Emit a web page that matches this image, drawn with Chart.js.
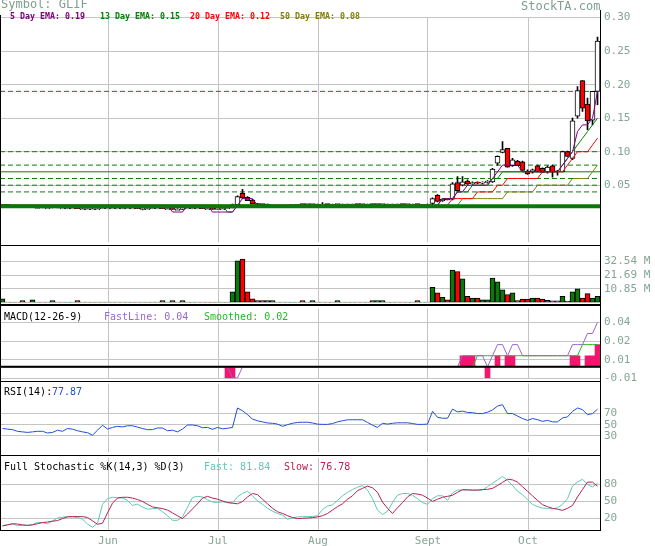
<!DOCTYPE html>
<html>
<head>
<meta charset="utf-8">
<script src="https://cdn.jsdelivr.net/npm/chart.js@4.4.0/dist/chart.umd.min.js"></script>
<style>
  body { margin: 0; background: #fff; }
  #wrap { position: relative; width: 655px; height: 546px; overflow: hidden; font-family: "DejaVu Sans Mono", monospace; }
  canvas { position: absolute; left: 0; }
  .ln { position: absolute; background: #000; pointer-events: none; }
  .txt { position: absolute; white-space: pre; line-height: 1; }
</style>
</head>
<body>
<div id="wrap">
  <canvas id="priceChart"></canvas>
  <canvas id="volumeChart"></canvas>
  <canvas id="macdChart"></canvas>
  <canvas id="rsiChart"></canvas>
  <canvas id="stochChart"></canvas>
</div>
<script>
// trading days shown, one candle per day
const days = 120;
const monthTicks = [21.6, 43.6, 63.6, 85.6, 105.6];
const monthLabels = ["Jun", "Jul", "Aug", "Sept", "Oct"];

// [open, high, low, close]
const ohlc = [
  [0.019,0.021,0.019,0.021],[0.021,0.021,0.019,0.020],[0.018,0.019,0.017,0.018],[0.018,0.018,0.017,0.017],[0.017,0.018,0.017,0.018],
  [0.018,0.018,0.017,0.017],[0.017,0.018,0.017,0.018],[0.017,0.017,0.016,0.017],[0.017,0.017,0.016,0.016],[0.016,0.017,0.016,0.016],
  [0.016,0.017,0.016,0.017],[0.017,0.017,0.016,0.016],[0.016,0.016,0.016,0.016],[0.016,0.016,0.015,0.016],[0.016,0.016,0.016,0.016],
  [0.016,0.016,0.015,0.015],[0.015,0.016,0.015,0.015],[0.015,0.015,0.015,0.015],[0.015,0.016,0.015,0.015],[0.015,0.015,0.015,0.015],
  [0.015,0.016,0.015,0.016],[0.016,0.016,0.016,0.016],[0.016,0.017,0.016,0.016],[0.016,0.016,0.016,0.016],[0.016,0.016,0.015,0.016],
  [0.016,0.016,0.016,0.016],[0.016,0.016,0.016,0.016],[0.016,0.016,0.015,0.015],[0.014,0.015,0.013,0.015],[0.015,0.015,0.015,0.015],
  [0.015,0.016,0.015,0.016],[0.016,0.016,0.016,0.016],[0.016,0.016,0.015,0.015],[0.015,0.015,0.015,0.015],[0.015,0.015,0.014,0.014],
  [0.014,0.015,0.014,0.014],[0.014,0.016,0.014,0.016],[0.016,0.016,0.016,0.016],[0.016,0.016,0.015,0.016],[0.016,0.016,0.016,0.016],
  [0.016,0.016,0.015,0.015],[0.015,0.015,0.015,0.015],[0.015,0.015,0.014,0.014],[0.014,0.015,0.014,0.015],[0.015,0.015,0.015,0.015],
  [0.015,0.016,0.015,0.016],[0.016,0.022,0.016,0.021],[0.021,0.034,0.020,0.033],[0.038,0.044,0.030,0.031],[0.032,0.033,0.027,0.027],
  [0.028,0.029,0.022,0.022],[0.022,0.023,0.021,0.021],[0.022,0.022,0.021,0.021],[0.022,0.022,0.019,0.019],[0.019,0.020,0.019,0.020],
  [0.020,0.020,0.019,0.020],[0.019,0.020,0.019,0.019],[0.019,0.020,0.019,0.020],[0.020,0.021,0.020,0.021],[0.021,0.021,0.021,0.021],
  [0.022,0.022,0.021,0.021],[0.021,0.022,0.021,0.022],[0.021,0.022,0.021,0.022],[0.022,0.022,0.021,0.022],[0.022,0.024,0.021,0.022],
  [0.022,0.022,0.021,0.021],[0.021,0.022,0.021,0.021],[0.021,0.022,0.021,0.022],[0.022,0.022,0.022,0.022],[0.022,0.022,0.021,0.022],
  [0.022,0.022,0.022,0.022],[0.022,0.022,0.021,0.021],[0.021,0.022,0.021,0.022],[0.022,0.022,0.022,0.022],[0.022,0.022,0.021,0.021],
  [0.022,0.022,0.021,0.021],[0.021,0.022,0.021,0.022],[0.022,0.022,0.022,0.022],[0.022,0.022,0.021,0.022],[0.022,0.022,0.022,0.022],
  [0.022,0.022,0.021,0.021],[0.021,0.022,0.021,0.022],[0.022,0.022,0.022,0.022],[0.022,0.022,0.021,0.021],[0.021,0.021,0.020,0.021],
  [0.021,0.022,0.020,0.021],[0.023,0.031,0.021,0.030],[0.035,0.036,0.025,0.026],[0.027,0.030,0.026,0.029],[0.029,0.029,0.028,0.028],
  [0.029,0.054,0.028,0.052],[0.054,0.063,0.041,0.042],[0.050,0.063,0.049,0.055],[0.056,0.058,0.051,0.052],[0.052,0.055,0.051,0.054],
  [0.054,0.055,0.052,0.053],[0.053,0.055,0.052,0.054],[0.054,0.057,0.053,0.056],[0.055,0.075,0.054,0.074],[0.083,0.094,0.080,0.093],
  [0.099,0.115,0.098,0.103],[0.105,0.105,0.077,0.077],[0.079,0.090,0.078,0.088],[0.086,0.087,0.079,0.079],[0.085,0.086,0.072,0.072],
  [0.071,0.073,0.066,0.067],[0.070,0.074,0.068,0.073],[0.079,0.080,0.070,0.070],[0.075,0.076,0.069,0.069],[0.070,0.079,0.068,0.077],
  [0.079,0.080,0.062,0.070],[0.071,0.072,0.065,0.070],[0.070,0.101,0.070,0.100],[0.100,0.101,0.093,0.093],[0.090,0.150,0.088,0.146],
  [0.153,0.197,0.150,0.191],[0.206,0.206,0.160,0.165],[0.171,0.180,0.133,0.146],[0.147,0.190,0.140,0.190],[0.190,0.271,0.170,0.265]
];

// volume, millions
const volume = [
  2.9,0.2,0.2,0.2,1.5,0.2,2.0,0.2,0.2,0.2,
  1.5,0.2,0.2,0.2,0.2,1.5,0.2,0.2,0.2,0.2,
  0.2,0.2,0.2,0.2,0.2,0.2,0.2,0.2,0.2,0.2,
  0.2,0.2,1.5,0.2,1.5,0.2,1.5,0.2,0.2,0.2,
  0.2,0.2,0.2,0.2,0.2,0.2,8.5,33.0,34.5,8.5,
  2.9,1.5,1.5,1.5,1.5,0.2,0.2,0.2,0.2,0.2,
  1.5,0.2,1.5,0.2,0.2,0.2,0.2,1.5,0.2,0.2,
  0.2,0.2,0.2,0.2,1.5,1.5,1.5,0.2,0.2,0.2,
  0.2,0.2,0.2,1.5,0.2,0.2,12.0,7.7,4.0,2.0,
  25.8,24.6,18.8,4.8,3.4,3.4,2.0,2.0,19.3,16.4,
  10.1,6.3,7.7,1.5,2.6,2.6,3.4,3.4,2.6,1.7,
  1.2,1.2,4.8,1.0,8.5,10.8,3.4,7.0,3.4,4.8
];

const ema5 = [
  0.02,0.02,0.02,0.02,0.02,0.02,0.02,0.02,0.02,0.02,
  0.02,0.02,0.02,0.02,0.02,0.02,0.02,0.02,0.02,0.02,
  0.02,0.02,0.02,0.02,0.02,0.02,0.02,0.02,0.02,0.02,
  0.02,0.02,0.02,0.02,0.01,0.01,0.01,0.02,0.02,0.02,
  0.02,0.02,0.01,0.01,0.01,0.01,0.01,0.02,0.03,0.03,
  0.03,0.02,0.02,0.02,0.02,0.02,0.02,0.02,0.02,0.02,
  0.02,0.02,0.02,0.02,0.02,0.02,0.02,0.02,0.02,0.02,
  0.02,0.02,0.02,0.02,0.02,0.02,0.02,0.02,0.02,0.02,
  0.02,0.02,0.02,0.02,0.02,0.02,0.02,0.02,0.03,0.03,
  0.03,0.04,0.04,0.05,0.05,0.05,0.05,0.05,0.06,0.07,
  0.08,0.08,0.08,0.08,0.07,0.07,0.07,0.07,0.07,0.07,
  0.07,0.07,0.08,0.09,0.10,0.13,0.14,0.14,0.15,0.19
];
const ema13 = [
  0.02,0.02,0.02,0.02,0.02,0.02,0.02,0.02,0.02,0.02,
  0.02,0.02,0.02,0.02,0.02,0.02,0.02,0.02,0.02,0.02,
  0.02,0.02,0.02,0.02,0.02,0.02,0.02,0.02,0.02,0.02,
  0.02,0.02,0.02,0.02,0.02,0.02,0.02,0.02,0.02,0.02,
  0.02,0.02,0.02,0.02,0.02,0.01,0.01,0.02,0.02,0.02,
  0.02,0.02,0.02,0.02,0.02,0.02,0.02,0.02,0.02,0.02,
  0.02,0.02,0.02,0.02,0.02,0.02,0.02,0.02,0.02,0.02,
  0.02,0.02,0.02,0.02,0.02,0.02,0.02,0.02,0.02,0.02,
  0.02,0.02,0.02,0.02,0.02,0.02,0.02,0.02,0.03,0.03,
  0.03,0.04,0.04,0.04,0.05,0.05,0.05,0.05,0.06,0.06,
  0.07,0.07,0.07,0.07,0.07,0.07,0.07,0.07,0.07,0.07,
  0.07,0.07,0.08,0.09,0.10,0.11,0.12,0.13,0.14,0.15
];
const ema20 = [
  0.02,0.02,0.02,0.02,0.02,0.02,0.02,0.02,0.02,0.02,
  0.02,0.02,0.02,0.02,0.02,0.02,0.02,0.02,0.02,0.02,
  0.02,0.02,0.02,0.02,0.02,0.02,0.02,0.02,0.02,0.02,
  0.02,0.02,0.02,0.02,0.02,0.02,0.02,0.02,0.02,0.02,
  0.02,0.02,0.02,0.02,0.02,0.02,0.02,0.02,0.02,0.02,
  0.02,0.02,0.02,0.02,0.02,0.02,0.02,0.02,0.02,0.02,
  0.02,0.02,0.02,0.02,0.02,0.02,0.02,0.02,0.02,0.02,
  0.02,0.02,0.02,0.02,0.02,0.02,0.02,0.02,0.02,0.02,
  0.02,0.02,0.02,0.02,0.02,0.02,0.02,0.02,0.02,0.02,
  0.03,0.03,0.03,0.03,0.03,0.04,0.04,0.04,0.04,0.05,
  0.05,0.06,0.06,0.06,0.06,0.06,0.06,0.06,0.07,0.07,
  0.07,0.07,0.07,0.08,0.09,0.10,0.10,0.10,0.11,0.12
];
const ema50 = [
  0.02,0.02,0.02,0.02,0.02,0.02,0.02,0.02,0.02,0.02,
  0.02,0.02,0.02,0.02,0.02,0.02,0.02,0.02,0.02,0.02,
  0.02,0.02,0.02,0.02,0.02,0.02,0.02,0.02,0.02,0.02,
  0.02,0.02,0.02,0.02,0.02,0.02,0.02,0.02,0.02,0.02,
  0.02,0.02,0.02,0.02,0.02,0.02,0.02,0.02,0.02,0.02,
  0.02,0.02,0.02,0.02,0.02,0.02,0.02,0.02,0.02,0.02,
  0.02,0.02,0.02,0.02,0.02,0.02,0.02,0.02,0.02,0.02,
  0.02,0.02,0.02,0.02,0.02,0.02,0.02,0.02,0.02,0.02,
  0.02,0.02,0.02,0.02,0.02,0.02,0.02,0.02,0.02,0.02,
  0.02,0.02,0.03,0.03,0.03,0.03,0.03,0.03,0.03,0.03,
  0.03,0.04,0.04,0.04,0.04,0.04,0.04,0.05,0.05,0.05,
  0.05,0.05,0.05,0.05,0.06,0.06,0.06,0.06,0.07,0.08
];

// horizontal price levels
const dashedLevels = [0.19, 0.10, 0.08, 0.06, 0.05, 0.04];
const solidLevel = 0.07;
const baseLevel = 0.0185;

const macdFast = [
  0,0,0,0,0,0,0,0,0,0, 0,0,0,0,0,0,0,0,0,0,
  0,0,0,0,0,0,0,0,0,0, 0,0,0,0,0,0,0,0,0,0,
  0,0,0,0,0,0,-0.01,-0.01,0,0, 0,0,0,0,0,0,0,0,0,0,
  0,0,0,0,0,0,0,0,0,0, 0,0,0,0,0,0,0,0,0,0,
  0,0,0,0,0,0,0,0,0,0,
  0,0,0.01,0.01,0.01,0.01,0.01,0,0.01,0.02,
  0.02,0.01,0.02,0.02,0.01,0.01,0.01,0.01,0.01,0.01,
  0.01,0.01,0.01,0.01,0.02,0.02,0.02,0.03,0.03,0.04
];
const macdSmooth = [
  0,0,0,0,0,0,0,0,0,0, 0,0,0,0,0,0,0,0,0,0,
  0,0,0,0,0,0,0,0,0,0, 0,0,0,0,0,0,0,0,0,0,
  0,0,0,0,0,0,0,0,0,0, 0,0,0,0,0,0,0,0,0,0,
  0,0,0,0,0,0,0,0,0,0, 0,0,0,0,0,0,0,0,0,0,
  0,0,0,0,0,0,0,0,0,0,
  0,0,0,0,0,0.01,0.01,0.01,0.01,0.01,
  0.01,0.01,0.01,0.01,0.01,0.01,0.01,0.01,0.01,0.01,
  0.01,0.01,0.01,0.01,0.01,0.01,0.02,0.02,0.02,0.02
];
const macdHist = [
  0,0,0,0,0,0,0,0,0,0, 0,0,0,0,0,0,0,0,0,0,
  0,0,0,0,0,0,0,0,0,0, 0,0,0,0,0,0,0,0,0,0,
  0,0,0,0,0,-0.01,-0.01,0,0,0, 0,0,0,0,0,0,0,0,0,0,
  0,0,0,0,0,0,0,0,0,0, 0,0,0,0,0,0,0,0,0,0,
  0,0,0,0,0,0,0,0,0,0,
  0,0,0.01,0.01,0.01,0,0,-0.01,0,0.01,
  0,0.01,0.01,0,0,0,0,0,0,0,
  0,0,0,0,0.01,0.01,0,0.01,0.01,0.02
];

const rsi = [
  43,42,41,38,37,36,37,38,38,35,
  36,40,38,43,42,39,37,35.5,31,40,
  49,42,45,47,46,48,48,45.5,43,41,
  41,44,44,39,40,37,42,49.4,49.4,48,
  44.5,45,41.5,45,42.5,43.5,45,80,75,68,
  60,57,55,53,52.5,51,47,50,52.5,54,
  54.4,54.4,53,51,50.5,50.5,52,55,57,58.8,
  58.8,58.8,58.8,54,49,45,52.5,51,52.5,53.3,
  53.3,53.3,52,50.5,50.5,51,74,63.3,61.6,61.6,
  78,73,74.4,72,71.6,70,70,72.5,76.5,83.5,
  86,70,70,65.5,61,57.7,61,59,56,57.7,
  55,55,62,64,74,80,77,68,70,77.87
];

const stochFast = [
  8,9,10.5,8,8,8.5,9.5,13.5,13,11,
  16,21,22.5,23.5,23,22,19,10.5,5,12,
  45,55,57.4,57,56,52,43,45.5,40,36.5,
  37.5,38,32,25,17,17,23,40,57,59,
  58,53,49,48.5,49.5,48.5,47.5,58,64,68,
  60,51,45,38,33,29,26,19,21,23,
  23.5,23.5,23.5,25,36,42,44,52,60,66,
  71,75,78,70,55,35,27,33,48,61,
  64,64,61,55,48,45,55,60,60,52,
  65,70,70,70,70,70,70,76,82,88,
  94,87,78,68,62,53,45,41,38.5,38,
  37,39,45,55,77,84,89,80,75.5,81.84
];
const stochSlow = [
  7,9,11,10.5,9,8,9,11,13,14,
  15.5,16.5,20,23,23.5,23.5,23.5,22,16,10,
  12,30,47,56,57.4,57.4,56,53.5,50,45,
  40.5,39,37.5,35,30,25,20,28,37,46,
  56,59,56,54,51,48,47,46,50,58,
  64,62,54,46,38,32,29,25,22,20,
  20.5,21,21.8,23,25,29,35,41,46,54,
  60,69,73,77,74,66,49,38,29,39,
  48,58,64,63,61,56,50,54,57.4,59,
  61,66,70.8,70.5,70,70,71,71.3,73,78,
  83.5,89,88,84,76,68,60,52,44.4,41,
  38,36.5,34.5,38,43,58,71,84,84,76.78
];

const priceTicks = [0.05, 0.10, 0.15, 0.20, 0.25, 0.30];
const volumeTicks = [10.85, 21.69, 32.54];
const macdTicks = [-0.0104, 0.0064, 0.0232, 0.04];
const rsiTicks = [30, 50, 70];
const stochTicks = [20, 50, 80];

const gridColor = "#c4c4c4";
const tickColor = "#86a596";
const tickFont = { family: "DejaVu Sans Mono", size: 11 };

function pts(arr) {
  return arr.map((v, i) => ({ x: i + 0.5, y: v }));
}

function hline(value, color, width, dash, order) {
  return {
    type: "line", order,
    data: [{ x: 0, y: value }, { x: days, y: value }],
    borderColor: color, borderWidth: width, borderDash: dash || [],
    pointRadius: 0
  };
}

function series(arr, color, order) {
  return {
    type: "line", order, data: pts(arr),
    borderColor: color, borderWidth: 1, pointRadius: 0, tension: 0
  };
}

function makeChart(id, top, bottom, datasets, y, showDates) {
  const padTop = 8;
  const padBottom = showDates ? 0 : 8;
  const xh = showDates ? 16 : 0;
  const cv = document.getElementById(id);
  cv.width = 655;
  cv.height = (bottom - top) + padTop + padBottom + xh;
  cv.style.top = (top - padTop) + "px";
  return new Chart(cv, {
    type: "line",
    data: { datasets },
    options: {
      responsive: false,
      animation: false,
      events: [],
      layout: { autoPadding: false, padding: { top: padTop, bottom: padBottom, left: 0, right: 0 } },
      plugins: { legend: { display: false }, tooltip: { enabled: false } },
      scales: {
        x: {
          type: "linear", min: 0, max: days, offset: false,
          afterBuildTicks: (s) => { s.ticks = monthTicks.map((v) => ({ value: v })); },
          afterFit: (s) => { s.height = xh; },
          grid: { color: gridColor, drawTicks: false, offset: false },
          border: { display: false },
          ticks: {
            display: showDates, padding: 5, font: tickFont, color: tickColor,
            autoSkip: false, maxRotation: 0,
            callback: (v, i) => monthLabels[i]
          }
        },
        y: {
          position: "right", min: y.min, max: y.max,
          afterBuildTicks: (s) => { s.ticks = y.ticks.map((v) => ({ value: v })); },
          afterFit: (s) => { s.width = 55; },
          grid: { color: gridColor, drawTicks: false },
          border: { display: false },
          ticks: { padding: 4, font: tickFont, color: tickColor, callback: y.fmt }
        }
      }
    }
  });
}

const isUp = ohlc.map((c) => c[3] >= c[0]);

// price panel
makeChart("priceChart", 15, 245, [
  hline(baseLevel, "#087808", 4, null, 0),
  series(ema5, "#800080", 1),
  series(ema13, "#008000", 1),
  series(ema20, "#ff0000", 1),
  series(ema50, "#808000", 1),
  {
    type: "bar", order: 2, grouped: false,
    data: ohlc.map((c, i) => ({ x: i + 0.5, y: [Math.min(c[0], c[3]), Math.max(c[0], c[3])] })),
    backgroundColor: ohlc.map((c, i) => (isUp[i] ? "#ffffff" : "#ff0000")),
    borderColor: "#000000", borderWidth: 1, borderSkipped: false,
    barThickness: 5, minBarLength: 1
  },
  {
    type: "bar", order: 3, grouped: false,
    data: ohlc.map((c, i) => ({ x: i + 0.5, y: [c[2], c[1]] })),
    backgroundColor: "#000000", borderWidth: 0, barThickness: 1
  },
  ...dashedLevels.map((v) => hline(v, "#0a800a", 1, [5, 3], 4)),
  hline(solidLevel, "#0a800a", 1, null, 4)
], { min: -0.0353, max: 0.30, ticks: priceTicks, fmt: (v) => v.toFixed(2) });

// volume panel
makeChart("volumeChart", 245, 305, [
  {
    type: "bar", grouped: false,
    data: pts(volume),
    backgroundColor: volume.map((v, i) => (isUp[i] ? "#0a780a" : "#ff0000")),
    borderColor: "#000000", borderWidth: 1, borderSkipped: false,
    barThickness: 5
  }
], { min: 0, max: 43.6, ticks: volumeTicks, fmt: (v) => v.toFixed(2) + " M" });

// MACD panel
makeChart("macdChart", 306, 381, [
  hline(0, "#000000", 2, null, 0),
  series(macdFast, "#9966cc", 1),
  series(macdSmooth, "#22bb22", 1),
  {
    type: "bar", order: 2, grouped: false,
    data: pts(macdHist),
    backgroundColor: "#f2166f", borderWidth: 0, barThickness: 5
  }
], { min: -0.0104, max: 0.0524, ticks: macdTicks, fmt: (v) => v.toFixed(2) });

// RSI panel
makeChart("rsiChart", 381, 455, [
  series(rsi, "#1e4fd6", 0)
], { min: 0, max: 124, ticks: rsiTicks, fmt: (v) => String(v) });

// stochastic panel
makeChart("stochChart", 455, 530, [
  series(stochSlow, "#b8204f", 0),
  series(stochFast, "#5ec8b6", 1)
], { min: 0, max: 127, ticks: stochTicks, fmt: (v) => String(v) }, true);

// frame lines
const wrap = document.getElementById("wrap");
function rule(left, top, w, h) {
  const d = document.createElement("div");
  d.className = "ln";
  d.style.cssText = `left:${left}px;top:${top}px;width:${w}px;height:${h}px`;
  wrap.appendChild(d);
}
rule(600, 10, 1, 521);
rule(0, 15, 1, 516);
rule(0, 245, 601, 1);
rule(0, 304, 601, 2);
rule(0, 381, 601, 1);
rule(0, 455, 601, 1);
rule(0, 530, 601, 1);

// texts
const last = (a) => a[a.length - 1];
function text(left, top, size, color, str, bold) {
  const d = document.createElement("div");
  d.className = "txt";
  d.style.cssText = `left:${left}px;top:${top}px;font-size:${size}px;color:${color};` + (bold ? "font-weight:bold;" : "");
  d.textContent = str;
  wrap.appendChild(d);
}
text(1, -2, 12, "#7f9f8f", "Symbol: GLIF");
text(521, 0, 12, "#7f9f8f", "StockTA.com");
text(10, 12, 8.3, "#800080", "5 Day EMA: " + last(ema5).toFixed(2), true);
text(100, 12, 8.3, "#008000", "13 Day EMA: " + last(ema13).toFixed(2), true);
text(190, 12, 8.3, "#ff0000", "20 Day EMA: " + last(ema20).toFixed(2), true);
text(280, 12, 8.3, "#808000", "50 Day EMA: " + last(ema50).toFixed(2), true);
text(4, 312, 10, "#000000", "MACD(12-26-9)");
text(104, 312, 10, "#9966cc", "FastLine: " + last(macdFast).toFixed(2));
text(204, 312, 10, "#22bb22", "Smoothed: " + last(macdSmooth).toFixed(2));
text(4, 387, 10, "#000000", "RSI(14):");
text(52, 387, 10, "#1e4fd6", last(rsi).toFixed(2));
text(4, 462, 10, "#000000", "Full Stochastic %K(14,3) %D(3)");
text(204, 462, 10, "#5ec8b6", "Fast: " + last(stochFast).toFixed(2));
text(284, 462, 10, "#b8204f", "Slow: " + last(stochSlow).toFixed(2));
</script>
</body>
</html>
